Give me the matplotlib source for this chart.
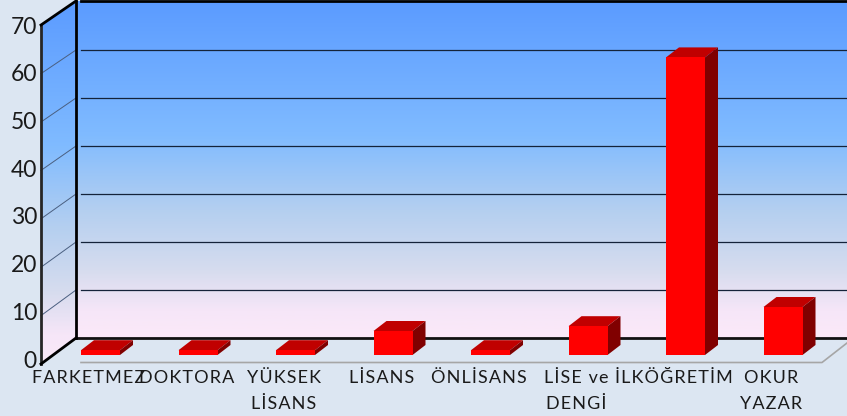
import numpy as np
import matplotlib
matplotlib.use('Agg')
import matplotlib.pyplot as plt
from matplotlib.colors import LinearSegmentedColormap
from matplotlib.patches import Polygon

# hair spaces between the letters, the chart has wide tracking
labels = ['FARKETMEZ', 'DOKTORA', 'YÜKSEK\nLİSANS', 'LİSANS',
          'ÖNLİSANS', 'LİSE ve\nDENGİ', 'İLKÖĞRETİM', 'OKUR\nYAZAR']
values = [1, 1, 1, 5, 1, 6, 62, 10]
y_ticks = [0, 10, 20, 30, 40, 50, 60, 70]

# pixel scale of the picture: one category and one value unit
W, H = 847, 416
px_cat = 97.5
px_val = 4.8
x0_px, y0_px = 100.5, 355


def cx(px):
    return (px - x0_px) / px_cat


def cy(px):
    return (y0_px - px) / px_val


def track(s):
    return '\n'.join('\u200a'.join(line) for line in s.split('\n'))


plt.rcParams['font.family'] = ['Lato', 'DejaVu Sans']
fig = plt.figure(figsize=(W / 100, H / 100), dpi=100, facecolor='#DCE6F2')
ax = fig.add_axes([0, 0, 1, 1])
ax.axis('off')

# wall gradient
cmap = LinearSegmentedColormap.from_list('wall', [
    (0.0, '#5B9BFF'), (0.40, '#80BBFF'), (0.62, '#B4CFF0'),
    (0.80, '#D6DCEE'), (0.92, '#F6E6F8'), (1.0, '#FBE9F8')])
grad = np.linspace(0, 1, 256).reshape(-1, 1)

back = ax.imshow(grad, cmap=cmap, aspect='auto', zorder=1,
                 extent=(cx(76), cx(W), cy(338), cy(1)))
left_corners = [(cx(41), cy(364)), (cx(41), cy(25)), (cx(76), cy(1)), (cx(76), cy(338))]
side = ax.imshow(grad, cmap=cmap, aspect='auto', zorder=1,
                 extent=(cx(41), cx(76), cy(364), cy(1)))
side.set_clip_path(Polygon(left_corners, transform=ax.transData))

# floor edge
ax.plot([cx(81), cx(822), cx(W)], [cy(362.5), cy(362.5), cy(343)], color='#A6A6A6', lw=1.2, zorder=2)

for t in y_ticks:
    y_back = cy(338 - 4.8 * t)
    y_front = cy(364 - 4.84 * t)
    if t > 0 and t < 70:
        ax.plot([cx(81), cx(W)], [y_back, y_back], color='#14233A', lw=0.9, zorder=2)
        ax.plot([cx(41), cx(76)], [y_front, y_back], color='#4A5F80', lw=0.7, zorder=2)
    ax.text(cx(37), cy(361 - 4.77 * t), str(t), ha='right', va='center', fontsize=16.5, color='#1A1A1A', zorder=6)

# frame
ax.plot([cx(81), cx(W)], [cy(1.5), cy(1.5)], color='black', lw=2, zorder=3)
ax.plot([cx(76), cx(W)], [cy(337.5), cy(337.5)], color='#111111', lw=2, zorder=3)
ax.plot([cx(76), cx(76)], [cy(1), cy(338)], color='black', lw=2, zorder=3)
ax.plot([cx(41), cx(41)], [cy(25), cy(364)], color='#262626', lw=2, zorder=3)
ax.plot([cx(41), cx(76)], [cy(25), cy(1)], color='black', lw=2, zorder=3)
ax.plot([cx(41), cx(76)], [cy(364), cy(338)], color='black', lw=2, zorder=3)

# bars
half = 19.5 / px_cat
dx = 13 / px_cat
dy = 10 / px_val
for i, v in enumerate(values):
    ax.add_patch(Polygon([(i - half, v), (i + half, v), (i + half + dx, v + dy), (i - half + dx, v + dy)],
                         fc='#C00000', ec='none', zorder=4))
    ax.add_patch(Polygon([(i + half, 0), (i + half + dx, dy), (i + half + dx, v + dy), (i + half, v)],
                         fc='#800000', ec='none', zorder=4))
    ax.bar(i, v, width=2 * half, color='#FF0000', zorder=5)

    ax.text(i - 11.5 / px_cat, cy(370), track(labels[i]), ha='center', va='top', fontsize=13,
            color='#1A1A1A', linespacing=1.8, zorder=6)

ax.set_xlim(cx(0), cx(W))
ax.set_ylim(cy(H), cy(0))

fig.savefig('out.png', dpi=100, facecolor=fig.get_facecolor())
